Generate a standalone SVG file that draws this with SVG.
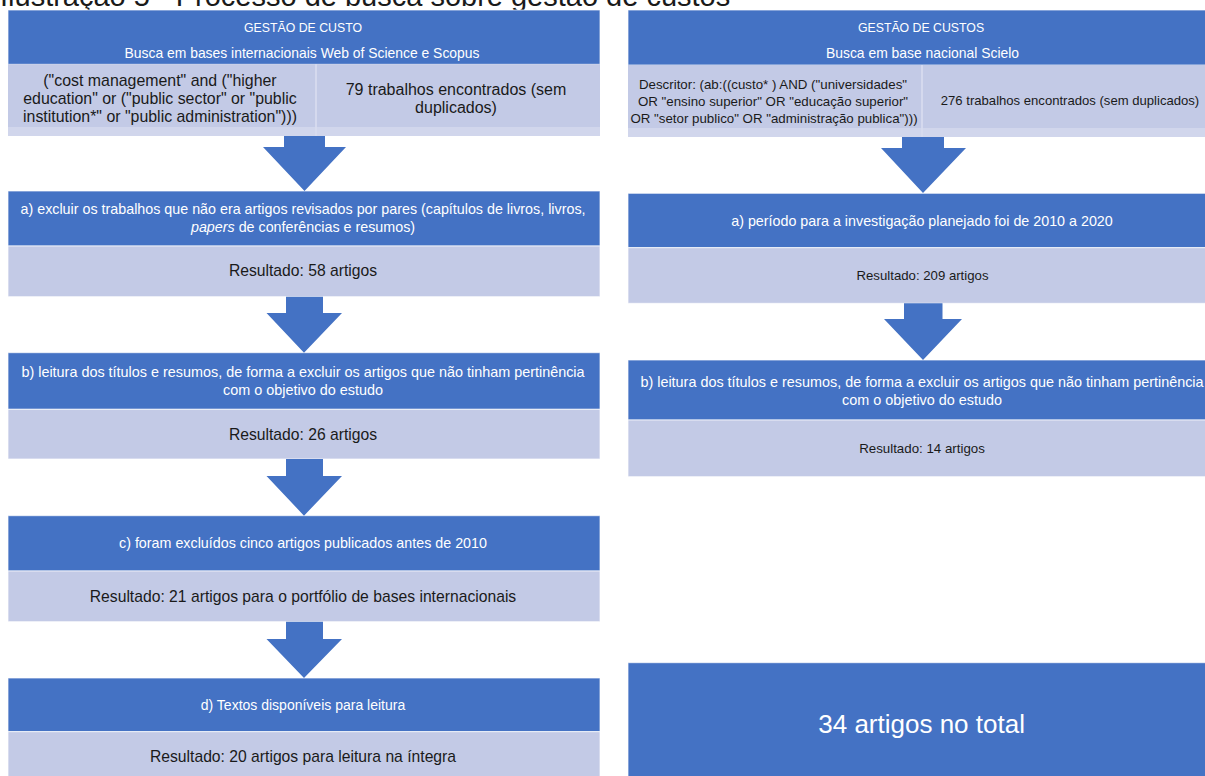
<svg xmlns="http://www.w3.org/2000/svg" width="1205" height="776" viewBox="0 0 1205 776">
<style>
.blue{fill:#4472C4;stroke:#ffffff;stroke-opacity:0.7;stroke-width:1}
.cell{fill:#C3CAE6}
.strip{fill:#D1D6EC}
.light{fill:#C3CAE6;stroke:#ffffff;stroke-opacity:0.7;stroke-width:1}
.div{stroke:#D8DCEF;stroke-width:1.5}
.arrow{fill:#4472C4}
text{font-family:"Liberation Sans",Arial,sans-serif;text-anchor:middle}
.w{fill:#ffffff}
.k{fill:#1a1a1a}
.title{fill:#1a1a1a;text-anchor:start;font-size:29px}
</style>
<rect x="0" y="0" width="1205" height="776" fill="#ffffff"/>
<text class="title" x="0" y="6">Ilustração 5 - Processo de busca sobre gestão de custos</text>

<g id="left-header">
<rect class="blue" x="8" y="10" width="592" height="54.3"/>
<text class="w" x="303" y="32.4" font-size="12.3">GESTÃO DE CUSTO</text>
<text class="w" x="302" y="58" font-size="13.9">Busca em bases internacionais Web of Science e Scopus</text>
</g>
<g id="left-query">
<rect class="strip" x="8" y="64.3" width="592" height="71.7"/>
<rect class="cell" x="8" y="64.3" width="307.5" height="62.7"/>
<rect class="cell" x="316.5" y="64.3" width="283.5" height="62.7"/>
<line class="div" x1="316" y1="64.3" x2="316" y2="136"/>
<text class="k" font-size="15.9"><tspan x="160" y="86">("cost management" and ("higher</tspan><tspan x="160" y="104">education" or ("public sector" or "public</tspan><tspan x="160" y="122">institution*" or "public administration")))</tspan></text>
<text class="k" font-size="16"><tspan x="456" y="95">79 trabalhos encontrados (sem</tspan><tspan x="456" y="113">duplicados)</tspan></text>
</g>
<g id="left-step-a">
<rect class="blue" x="8" y="191" width="592" height="55"/>
<rect class="light" x="8" y="246" width="592" height="50.7"/>
<text class="w" font-size="14.3"><tspan x="303" y="213.5">a) excluir os trabalhos que não era artigos revisados por pares (capítulos de livros, livros,</tspan><tspan x="303" y="231.9"><tspan font-style="italic">papers</tspan> de conferências e resumos)</tspan></text>
<text class="k" x="303" y="276.3" font-size="15.7">Resultado: 58 artigos</text>
</g>
<g id="left-step-b">
<rect class="blue" x="8" y="352.7" width="592" height="56.6"/>
<rect class="light" x="8" y="409.3" width="592" height="49.7"/>
<text class="w" font-size="14.4"><tspan x="303" y="376.9">b) leitura dos títulos e resumos, de forma a excluir os artigos que não tinham pertinência</tspan><tspan x="303" y="395.2">com o objetivo do estudo</tspan></text>
<text class="k" x="303" y="439.6" font-size="15.7">Resultado: 26 artigos</text>
</g>
<g id="left-step-c">
<rect class="blue" x="8" y="515.7" width="592" height="55.3"/>
<rect class="light" x="8" y="571" width="592" height="50.7"/>
<text class="w" x="303" y="547.9" font-size="14.3">c) foram excluídos cinco artigos publicados antes de 2010</text>
<text class="k" x="303" y="601.6" font-size="15.7">Resultado: 21 artigos para o portfólio de bases internacionais</text>
</g>
<g id="left-step-d">
<rect class="blue" x="8" y="678" width="592" height="53.7"/>
<rect class="light" x="8" y="731.7" width="592" height="50"/>
<text class="w" x="303" y="710" font-size="14">d) Textos disponíveis para leitura</text>
<text class="k" x="303" y="761.6" font-size="15.7">Resultado: 20 artigos para leitura na íntegra</text>
</g>

<g id="right-header">
<rect class="blue" x="628" y="10" width="590" height="55"/>
<text class="w" x="921" y="32.4" font-size="12.3">GESTÃO DE CUSTOS</text>
<text class="w" x="922.5" y="58" font-size="13.9">Busca em base nacional Scielo</text>
</g>
<g id="right-query">
<rect class="strip" x="628" y="65" width="590" height="72"/>
<rect class="cell" x="628" y="65" width="293.5" height="63"/>
<rect class="cell" x="922.5" y="65" width="295.5" height="63"/>
<line class="div" x1="922" y1="65" x2="922" y2="137"/>
<text class="k" font-size="13.3"><tspan x="773" y="89">Descritor: (ab:((custo* ) AND ("universidades"</tspan><tspan x="773" y="106">OR "ensino superior" OR "educação superior"</tspan><tspan x="774" y="123">OR "setor publico" OR "administração publica")))</tspan></text>
<text class="k" x="1070" y="104.5" font-size="13.1">276 trabalhos encontrados (sem duplicados)</text>
</g>
<g id="right-step-a">
<rect class="blue" x="628" y="193.3" width="590" height="54.4"/>
<rect class="light" x="628" y="247.7" width="590" height="55.6"/>
<text class="w" x="922" y="225.9" font-size="14.3">a) período para a investigação planejado foi de 2010 a 2020</text>
<text class="k" x="922.5" y="279.8" font-size="13.2">Resultado: 209 artigos</text>
</g>
<g id="right-step-b">
<rect class="blue" x="628" y="360" width="590" height="60"/>
<rect class="light" x="628" y="420" width="590" height="56.7"/>
<text class="w" font-size="14.4"><tspan x="922" y="386.9">b) leitura dos títulos e resumos, de forma a excluir os artigos que não tinham pertinência</tspan><tspan x="922" y="405.2">com o objetivo do estudo</tspan></text>
<text class="k" x="922" y="452.8" font-size="13.3">Resultado: 14 artigos</text>
</g>
<g id="right-total">
<rect class="blue" x="628" y="662.7" width="590" height="120"/>
<text class="w" x="921.6" y="732.7" font-size="26">34 artigos no total</text>
</g>

<g id="connectors">
<polygon class="arrow" points="284,136 325,136 325,147 346,147 304.5,191 263,147 284,147"/>
<polygon class="arrow" points="286,296.7 323,296.7 323,313 342,313 304,352.7 266.5,313 286,313"/>
<polygon class="arrow" points="286,459 323,459 323,476 342,476 304,515.7 266.5,476 286,476"/>
<polygon class="arrow" points="286,621.7 323,621.7 323,639 342,639 304,678 266.5,639 286,639"/>
<polygon class="arrow" points="902,137 944,137 944,148 966,148 923,193 881,148 902,148"/>
<polygon class="arrow" points="904,303.3 942.5,303.3 942.5,319 962,319 923,360 884,319 904,319"/>
</g>
</svg>
